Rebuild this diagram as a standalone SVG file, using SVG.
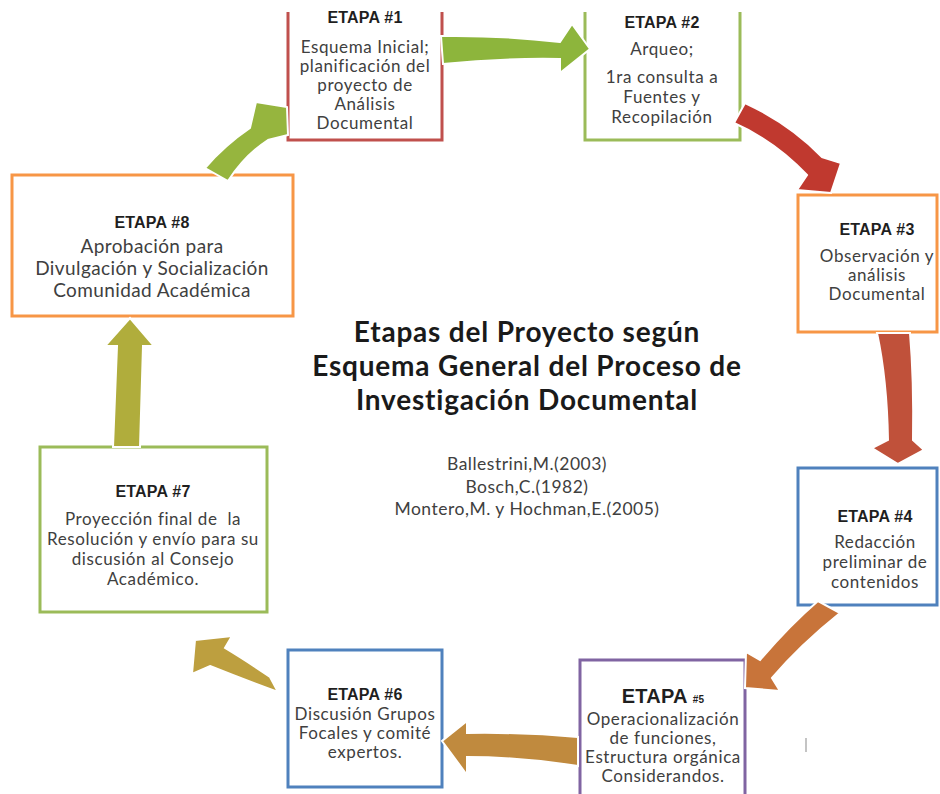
<svg xmlns="http://www.w3.org/2000/svg" width="940" height="794" viewBox="0 0 940 794">
<style>
.box{fill:#ffffff;stroke-width:3}
.h{font-family:"Liberation Sans",Arial,sans-serif;font-weight:bold;font-size:16px;letter-spacing:0.2px;fill:#1f1f1f;text-anchor:middle}
.t{font-family:Lato,"Open Sans",sans-serif;font-size:17px;letter-spacing:0.6px;fill:#404040;text-anchor:middle}
.t8{font-family:Lato,"Open Sans",sans-serif;font-size:19px;letter-spacing:0.4px;fill:#404040;text-anchor:middle}
.ti{font-family:Lato,"Open Sans",sans-serif;font-weight:bold;font-size:28px;letter-spacing:0.8px;fill:#1a1a1a;text-anchor:middle}
.r{font-family:Lato,"Open Sans",sans-serif;font-size:17.5px;letter-spacing:0.5px;fill:#404040;text-anchor:middle}
.ar{stroke:#ffffff;stroke-width:2;stroke-linejoin:miter}
</style>
<rect x="0" y="0" width="940" height="794" fill="#ffffff"/>
<g id="node1">
<path class="box" d="M288,12 V140 H442 V12" stroke="#c0504d"/>
<text class="h" x="365" y="23">ETAPA #1</text>
<text class="t" x="365" y="53">Esquema Inicial;</text>
<text class="t" x="365" y="72">planificación del</text>
<text class="t" x="365" y="91">proyecto de</text>
<text class="t" x="365" y="110">Análisis</text>
<text class="t" x="365" y="129">Documental</text>
</g>
<g id="node2">
<path class="box" d="M585,12 V140 H740 V12" stroke="#9bbb59"/>
<text class="h" x="662" y="28">ETAPA #2</text>
<text class="t" x="662" y="55">Arqueo;</text>
<text class="t" x="662" y="83">1ra consulta a</text>
<text class="t" x="662" y="103">Fuentes y</text>
<text class="t" x="662" y="123">Recopilación</text>
</g>
<g id="node3">
<rect class="box" x="798" y="195" width="139" height="137" stroke="#f79646"/>
<text class="h" x="877" y="235">ETAPA #3</text>
<text class="t" x="877" y="262">Observación y</text>
<text class="t" x="877" y="281">análisis</text>
<text class="t" x="877" y="300">Documental</text>
</g>
<g id="node4">
<rect class="box" x="798" y="468" width="139" height="137" stroke="#4f81bd"/>
<text class="h" x="875" y="522">ETAPA #4</text>
<text class="t" x="875" y="548">Redacción</text>
<text class="t" x="875" y="568">preliminar de</text>
<text class="t" x="875" y="588">contenidos</text>
</g>
<g id="node5">
<rect class="box" x="580" y="660" width="165" height="150" stroke="#8064a2"/>
<text class="h" x="663" y="703"><tspan font-size="20px">ETAPA </tspan><tspan font-size="10px">#5</tspan></text>
<text class="t" x="663" y="725">Operacionalización</text>
<text class="t" x="663" y="744">de funciones,</text>
<text class="t" x="663" y="763">Estructura orgánica</text>
<text class="t" x="663" y="782">Considerandos.</text>
</g>
<g id="node6">
<rect class="box" x="288" y="650" width="154" height="137" stroke="#4f81bd"/>
<text class="h" x="365" y="700">ETAPA #6</text>
<text class="t" x="365" y="720">Discusión Grupos</text>
<text class="t" x="365" y="739">Focales y comité</text>
<text class="t" x="365" y="758">expertos.</text>
</g>
<g id="node7">
<rect class="box" x="40" y="447" width="227" height="165" stroke="#9bbb59"/>
<text class="h" x="153" y="497">ETAPA #7</text>
<text class="t" x="153" y="525" xml:space="preserve">Proyección final de  la</text>
<text class="t" x="153" y="545">Resolución y envío para su</text>
<text class="t" x="153" y="565">discusión al Consejo</text>
<text class="t" x="153" y="585">Académico.</text>
</g>
<g id="node8">
<rect class="box" x="12" y="175" width="281" height="141" stroke="#f79646"/>
<text class="h" x="152" y="228">ETAPA #8</text>
<text class="t8" x="152" y="253">Aprobación para</text>
<text class="t8" x="152" y="275">Divulgación y Socialización</text>
<text class="t8" x="152" y="297">Comunidad Académica</text>
</g>
<g id="title">
<text class="ti" x="527" y="342">Etapas del Proyecto según</text>
<text class="ti" x="527" y="376">Esquema General del Proceso de</text>
<text class="ti" x="527" y="410">Investigación Documental</text>
<text class="r" x="527" y="470">Ballestrini,M.(2003)</text>
<text class="r" x="527" y="493">Bosch,C.(1982)</text>
<text class="r" x="527" y="515">Montero,M. y Hochman,E.(2005)</text>
</g>
<g id="connectors">
<path class="ar" fill="#8db53c" d="M441,36 Q500,35 560,42 L572,24 L590,49 L560,73 L560,59 Q500,58 443,64 Z"/>
<path class="ar" fill="#c0392f" d="M745,103 Q790,124 822,157 L841,163 L831,193 L797,190 L807,175 Q775,141 734,123 Z"/>
<path class="ar" fill="#c0513a" d="M877,333 Q887,380 888,440 L872,448 L898,464 L924,450 L913,440 Q914,380 910,333 Z"/>
<path class="ar" fill="#c8743a" d="M818,601 Q790,625 760,660 L746,652 L745,688 L780,691 L772,678 Q800,645 840,613 Z"/>
<path class="ar" fill="#c08a3e" d="M578,737 Q520,732 467,733 L467,721 L442,741 L467,775 L467,757 Q520,757 578,766 Z"/>
<path class="ar" fill="#bd9f3f" d="M270,677 Q245,660 225,648 L232,636 L195,640 L192,674 L210,666 Q245,680 278,692 Z"/>
<path class="ar" fill="#b0ad3c" d="M113,447 L117,346 L105,346 L130,318 L154,346 L143,346 L140,447 Z"/>
<path class="ar" fill="#96b53e" d="M205,168 Q225,145 250,128 L256,102 L287,107 L288,135 L268,140 Q245,155 228,181 Z"/>
</g>
<line x1="806" y1="738" x2="806" y2="752" stroke="#b0b0b0" stroke-width="1.5"/>
</svg>
